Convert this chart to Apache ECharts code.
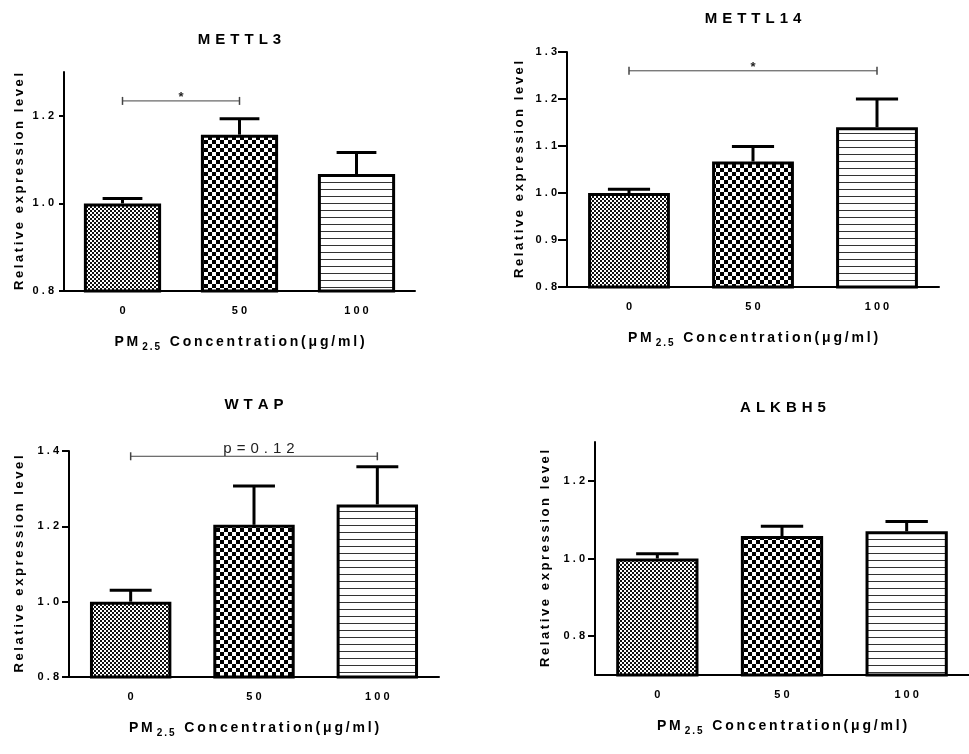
<!DOCTYPE html>
<html><head><meta charset="utf-8">
<script src="https://cdn.jsdelivr.net/npm/echarts@6/dist/echarts.min.js"></script>
<style>html,body{margin:0;padding:0;background:#fff}#c{width:969px;height:754px}</style>
</head><body><div id="c"></div>
<script>
// ---------------- data ----------------
const categories = ['0', '50', '100'];
const panelTitles = ['METTL3', 'METTL14', 'WTAP', 'ALKBH5'];
const yAxisName = 'Relative expression level';
const xAxisNameMain = 'PM';
const xAxisNameSub = '2.5';
const xAxisNameRest = 'Concentration(μg/ml)';

const mettl3Mean = [1.0, 1.157, 1.067];
const mettl3Err = [0.011, 0.036, 0.049];
const mettl14Mean = [1.0, 1.067, 1.14];
const mettl14Err = [0.008, 0.032, 0.06];
const wtapMean = [1.0, 1.204, 1.258];
const wtapErr = [0.03, 0.103, 0.1];
const alkbh5Mean = [1.0, 1.058, 1.07];
const alkbh5Err = [0.012, 0.025, 0.025];

const yMin = [0.8, 0.8, 0.8, 0.7];
const yMax = [1.3, 1.3, 1.4, 1.3];
const yTicks = [
  [0.8, 1.0, 1.2],
  [0.8, 0.9, 1.0, 1.1, 1.2, 1.3],
  [0.8, 1.0, 1.2, 1.4],
  [0.8, 1.0, 1.2]
];

// significance brackets: panel index, from category, to category, level, text
const sigPanel = [0, 1, 2];
const sigFrom = [0, 0, 0];
const sigTo = [1, 2, 2];
const sigLevel = [1.234, 1.26, 1.386];
const sigText = ['*', '*', 'p=0.12'];

// ---------------- layout / style ----------------
const means = [mettl3Mean, mettl14Mean, wtapMean, alkbh5Mean];
const errs = [mettl3Err, mettl14Err, wtapErr, alkbh5Err];
const grids = [
  {left: 64, top: 72, width: 351, height: 219},
  {left: 567, top: 52, width: 372, height: 235},
  {left: 69, top: 451, width: 370, height: 226},
  {left: 595, top: 442, width: 376, height: 233}
];
const titleY = [40, 19, 405, 408];
const yNameGap = [38, 41, 43, 43];
const yTickLen = [5, 9, 7, 7];
const FONT = '"Liberation Sans", Arial, Helvetica, sans-serif';
const sp = (s, sep) => Array.from(s).join(sep);

function makePattern(kind) {
  const c = document.createElement('canvas');
  const ctx = c.getContext('2d');
  if (kind === 0) {
    c.width = 4; c.height = 4;
    ctx.fillStyle = '#fff'; ctx.fillRect(0, 0, 4, 4);
    ctx.fillStyle = '#111'; ctx.fillRect(0, 0, 2, 2); ctx.fillRect(2, 2, 2, 2);
  } else if (kind === 1) {
    c.width = 8; c.height = 8;
    ctx.fillStyle = '#fff'; ctx.fillRect(0, 0, 8, 8);
    ctx.fillStyle = '#000'; ctx.fillRect(0, 0, 4, 4); ctx.fillRect(4, 4, 4, 4);
  } else {
    c.width = 4; c.height = 7;
    ctx.fillStyle = '#fff'; ctx.fillRect(0, 0, 4, 7);
    ctx.fillStyle = '#333'; ctx.fillRect(0, 0, 4, 1);
  }
  return {image: c, repeat: 'repeat'};
}
const patterns = [makePattern(0), makePattern(1), makePattern(2)];

const xAxes = [], yAxes = [], series = [], graphics = [];
grids.forEach((g, i) => {
  xAxes.push({
    type: 'category', gridIndex: i, data: categories,
    axisLine: {lineStyle: {color: '#000', width: 2}},
    axisTick: {alignWithLabel: true, length: 6, lineStyle: {color: '#000', width: 2}},
    axisLabel: {margin: 14, color: '#000', fontSize: 11, fontWeight: 'bold', fontFamily: FONT,
      formatter: v => sp(v, ' ')},
    name: '{a|' + sp(xAxisNameMain, '\u2009') + '}{s|' + sp(xAxisNameSub, '\u2009') + '}{a|\u2009 ' + sp(xAxisNameRest, '\u2009') + '}',
    nameLocation: 'middle', nameGap: 41,
    nameTextStyle: {
      color: '#000', fontFamily: FONT, fontWeight: 'bold', fontSize: 14,
      rich: {
        a: {fontSize: 14, fontWeight: 'bold', fontFamily: FONT, color: '#000', lineHeight: 20},
        s: {fontSize: 10, fontWeight: 'bold', fontFamily: FONT, color: '#000', lineHeight: 10, verticalAlign: 'bottom', padding: [0, 3, 0, 4]}
      }
    }
  });
  yAxes.push({
    type: 'value', gridIndex: i, min: yMin[i], max: yMax[i],
    splitLine: {show: false},
    axisLine: {show: true, lineStyle: {color: '#000', width: 2}},
    axisTick: {show: true, length: yTickLen[i], customValues: yTicks[i], lineStyle: {color: '#000', width: 2}},
    axisLabel: {margin: 10, color: '#000', fontSize: 11, fontWeight: 'bold', fontFamily: FONT,
      customValues: yTicks[i], formatter: v => sp(v.toFixed(1), ' ')},
    name: sp(yAxisName, '\u2009'), nameLocation: 'middle', nameRotate: 90, nameGap: yNameGap[i],
    nameTextStyle: {color: '#000', fontFamily: FONT, fontWeight: 'bold', fontSize: 13}
  });
  series.push({
    type: 'bar', xAxisIndex: i, yAxisIndex: i, barWidth: '66%', z: 2,
    data: means[i].map((m, k) => ({value: m, itemStyle: {color: patterns[k], borderColor: '#000', borderWidth: 3}}))
  });
  series.push({
    type: 'custom', xAxisIndex: i, yAxisIndex: i, z: 3,
    data: means[i].map((m, k) => [k, m, errs[i][k]]),
    encode: {x: 0, y: 1},
    renderItem(params, api) {
      const x = api.value(0), m = api.value(1), e = api.value(2);
      const p0 = api.coord([x, m]), p1 = api.coord([x, m + e]);
      const hw = api.size([1, 0])[0] * 0.17;
      return {type: 'group', children: [
        {type: 'line', shape: {x1: p0[0], y1: p0[1], x2: p1[0], y2: p1[1]}, style: {stroke: '#000', lineWidth: 3}},
        {type: 'line', shape: {x1: p1[0] - hw, y1: p1[1], x2: p1[0] + hw, y2: p1[1]}, style: {stroke: '#000', lineWidth: 3}}
      ]};
    }
  });
  const ctr = g.left + g.width / 2;
  graphics.push({
    type: 'text', x: ctr, y: titleY[i],
    style: {text: sp(panelTitles[i], '\u2004'), align: 'center', verticalAlign: 'middle',
      font: 'bold 15px ' + FONT, fill: '#000'}
  });
});

sigPanel.forEach((p, j) => {
  series.push({
    type: 'custom', xAxisIndex: p, yAxisIndex: p, z: 4,
    data: [[sigFrom[j], sigLevel[j], sigTo[j]]],
    encode: {x: 0, y: 1},
    renderItem(params, api) {
      const a = api.coord([api.value(0), api.value(1)]);
      const b = api.coord([api.value(2), api.value(1)]);
      const txt = sigText[j];
      const isStar = txt === '*';
      return {type: 'group', children: [
        {type: 'line', shape: {x1: a[0], y1: a[1], x2: b[0], y2: b[1]}, style: {stroke: '#444', lineWidth: 1}},
        {type: 'line', shape: {x1: a[0], y1: a[1] - 4, x2: a[0], y2: a[1] + 4}, style: {stroke: '#444', lineWidth: 1.5}},
        {type: 'line', shape: {x1: b[0], y1: b[1] - 4, x2: b[0], y2: b[1] + 4}, style: {stroke: '#444', lineWidth: 1.5}},
        {type: 'text', x: (a[0] + b[0]) / 2 + (isStar ? 0 : 5), y: isStar ? a[1] + 3 : a[1] - 7,
          style: {text: isStar ? txt : sp(txt, '\u2004'), align: 'center', verticalAlign: isStar ? 'bottom' : 'middle',
            font: (isStar ? 'bold 13px ' : '15px ') + FONT, fill: '#222'}}
      ]};
    }
  });
});

const chart = echarts.init(document.getElementById('c'), null, {renderer: 'canvas'});
chart.setOption({
  animation: false,
  backgroundColor: '#fff',
  grid: grids,
  xAxis: xAxes,
  yAxis: yAxes,
  series: series,
  graphic: graphics
});
</script>
</body></html>
